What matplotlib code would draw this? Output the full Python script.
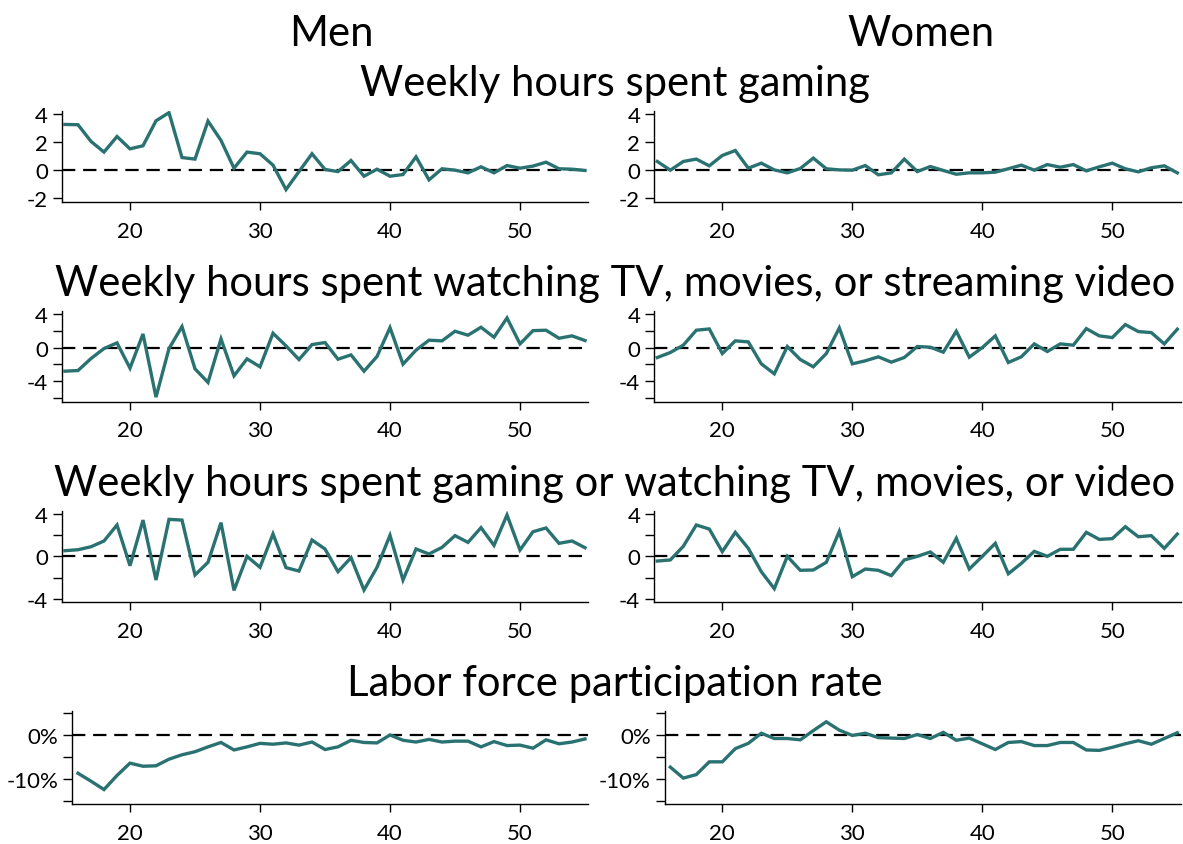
import matplotlib
matplotlib.use('Agg')
import matplotlib.pyplot as plt
from matplotlib.ticker import FixedLocator, FixedFormatter

plt.rcParams['font.family'] = ['Lato', 'DejaVu Sans']
plt.rcParams['axes.unicode_minus'] = False

# ---------------- data ----------------
ages = list(range(15, 56))
ages_lfp = list(range(16, 56))

men_gaming = [3.26, 3.24, 2.05, 1.29, 2.4, 1.52, 1.74, 3.52, 4.1, 0.9, 0.79, 3.5, 2.12, 0.14,
              1.29, 1.17, 0.36, -1.38, -0.1, 1.17, 0.05, -0.1, 0.69, -0.43, 0.07, -0.43, -0.31,
              0.95, -0.69, 0.1, 0.0, -0.19, 0.24, -0.19, 0.33, 0.14, 0.29, 0.57, 0.1, 0.07, -0.02]
women_gaming = [0.62, 0.0, 0.62, 0.79, 0.31, 1.05, 1.4, 0.14, 0.5, 0.02, -0.19, 0.12, 0.86, 0.1,
                0.02, 0.0, 0.33, -0.33, -0.19, 0.79, -0.1, 0.26, -0.02, -0.29, -0.19, -0.19, -0.14,
                0.1, 0.36, 0.0, 0.4, 0.21, 0.4, -0.05, 0.24, 0.5, 0.1, -0.12, 0.17, 0.31, -0.19]
men_tv = [-2.8, -2.72, -1.3, -0.12, 0.55, -2.44, 1.61, -5.87, -0.12, 2.48, -2.52, -4.13, 1.02,
          -3.35, -1.34, -2.28, 1.69, 0.2, -1.42, 0.35, 0.59, -1.38, -0.87, -2.8, -1.06, 2.36, -1.97,
          -0.31, 0.87, 0.79, 1.93, 1.46, 2.4, 1.22, 3.5, 0.43, 2.0, 2.05, 1.1, 1.38, 0.83]
women_tv = [-1.18, -0.59, 0.28, 2.05, 2.2, -0.71, 0.79, 0.67, -1.93, -3.11, 0.12, -1.42, -2.28,
            -0.71, 2.32, -1.93, -1.57, -1.1, -1.73, -1.18, 0.12, 0.04, -0.55, 1.93, -1.14, 0.0,
            1.38, -1.77, -1.1, 0.43, -0.47, 0.43, 0.28, 2.24, 1.38, 1.18, 2.72, 1.89, 1.77, 0.43, 2.17]
men_both = [0.53, 0.62, 0.9, 1.44, 2.94, -0.88, 3.4, -2.22, 3.47, 3.4, -1.75, -0.56, 3.16, -3.19,
            0.0, -1.03, 2.1, -1.06, -1.38, 1.53, 0.69, -1.44, -0.12, -3.16, -1.03, 1.97, -2.22,
            0.69, 0.22, 0.84, 1.94, 1.31, 2.69, 1.03, 3.88, 0.59, 2.31, 2.66, 1.22, 1.44, 0.81]
women_both = [-0.44, -0.34, 0.94, 2.94, 2.56, 0.44, 2.25, 0.75, -1.44, -3.03, 0.0, -1.31, -1.28,
              -0.56, 2.34, -1.91, -1.19, -1.31, -1.81, -0.34, 0.0, 0.41, -0.56, 1.69, -1.19, 0.0,
              1.22, -1.63, -0.66, 0.47, 0.0, 0.66, 0.66, 2.25, 1.59, 1.66, 2.78, 1.84, 1.94, 0.75, 2.09]
men_lfp = [-8.7, -10.5, -12.4, -9.2, -6.4, -7.1, -7.0, -5.5, -4.5, -3.8, -2.7, -1.7, -3.4, -2.7,
           -1.9, -2.1, -1.8, -2.3, -1.6, -3.3, -2.7, -1.2, -1.7, -1.8, 0.0, -1.2, -1.6, -1.0, -1.6,
           -1.4, -1.4, -2.7, -1.5, -2.4, -2.3, -3.0, -1.1, -2.0, -1.6, -0.9]
women_lfp = [-7.3, -9.8, -9.0, -6.1, -6.1, -3.1, -1.9, 0.4, -0.8, -0.8, -1.1, 1.0, 3.0, 1.1, -0.1,
             0.4, -0.6, -0.7, -0.8, 0.1, -0.8, 0.6, -1.2, -0.7, -2.0, -3.3, -1.7, -1.5, -2.4, -2.4,
             -1.7, -1.7, -3.4, -3.5, -2.8, -2.0, -1.3, -2.1, -0.8, 0.5]

column_titles = ["Men", "Women"]
row_titles = ["Weekly hours spent gaming",
              "Weekly hours spent watching TV, movies, or streaming video",
              "Weekly hours spent gaming or watching TV, movies, or video",
              "Labor force participation rate"]

x_ticks = [20, 30, 40, 50]
x_tick_labels = ["20", "30", "40", "50"]

y_ticks = [[-2, 0, 2, 4], [-6, -4, -2, 0, 2, 4], [-4, -2, 0, 2, 4], [-15, -10, -5, 0, 5]]
y_tick_labels = [["-2", "0", "2", "4"],
                 ["", "-4", "", "0", "", "4"],
                 ["-4", "", "0", "", "4"],
                 ["", "-10%", "", "0%", ""]]

series = [(ages, men_gaming, women_gaming),
          (ages, men_tv, women_tv),
          (ages, men_both, women_both),
          (ages_lfp, men_lfp, women_lfp)]

# ---------------- layout (pixels) ----------------
W, H = 1183, 845
fig = plt.figure(figsize=(W / 100, H / 100), dpi=100)

LINE = '#2a7271'
row_box = [(111.7, 203.3), (311.7, 402.7), (511.7, 603.3), (711.7, 805.3)]
ylims = [(-2.29, 4.24), (-6.41, 4.36), (-4.31, 4.28), (-15.75, 5.52)]
xlims = [(14.75, 55.25), (14.75, 55.25), (14.75, 55.25), (15.57, 55.25)]
col_x20 = [130.0, 722.3]
px_per_year = 13.0

tick_fs = 16

for r in range(4):
    top, bot = row_box[r]
    xs, men, women = series[r]
    for c, ys in enumerate([men, women]):
        x0, x1 = xlims[r]
        left = col_x20[c] + (x0 - 20) * px_per_year
        right = col_x20[c] + (x1 - 20) * px_per_year
        ax = fig.add_axes([left / W, 1 - bot / H, (right - left) / W, (bot - top) / H])
        ax.set_xlim(x0, x1)
        ax.set_ylim(*ylims[r])
        ax.axhline(0, color='black', lw=1.6, ls=(0, (6, 3.5)), zorder=1)
        ax.plot(xs, ys, color=LINE, lw=2.4, zorder=2, solid_joinstyle='miter')
        for s in ['top', 'right']:
            ax.spines[s].set_visible(False)
        for s in ['left', 'bottom']:
            ax.spines[s].set_linewidth(1.0)
            ax.spines[s].set_color('black')
        ax.xaxis.set_major_locator(FixedLocator(x_ticks))
        ax.xaxis.set_major_formatter(FixedFormatter(x_tick_labels))
        ax.yaxis.set_major_locator(FixedLocator(y_ticks[r]))
        ax.yaxis.set_major_formatter(FixedFormatter(y_tick_labels[r]))
        ax.tick_params(axis='x', length=6, width=1.0, pad=7.5, labelsize=tick_fs)
        ax.tick_params(axis='y', length=6.5, width=1.0, pad=3.5, labelsize=tick_fs)
        ax.set_facecolor('none')

# ---------------- titles ----------------
renderer = fig.canvas.get_renderer()

def place(x, y, s, size):
    return fig.text(x / W, 1 - y / H, s, fontsize=size, ha='center', va='baseline', color='black')

probe = place(616, 296, row_titles[1], 30)
w = probe.get_window_extent(renderer=renderer).width
title_fs = 30 * 1118.0 / w
probe.remove()

probe = place(921, 46, column_titles[1], 30)
w = probe.get_window_extent(renderer=renderer).width
col_fs = 30 * 147.0 / w
probe.remove()

place(331, 46, column_titles[0], col_fs)
place(921, 46, column_titles[1], col_fs)
title_y = [96, 296, 496, 696]
for i, t in enumerate(row_titles):
    place(615, title_y[i], t, title_fs)

fig.savefig('out.png', dpi=100)
